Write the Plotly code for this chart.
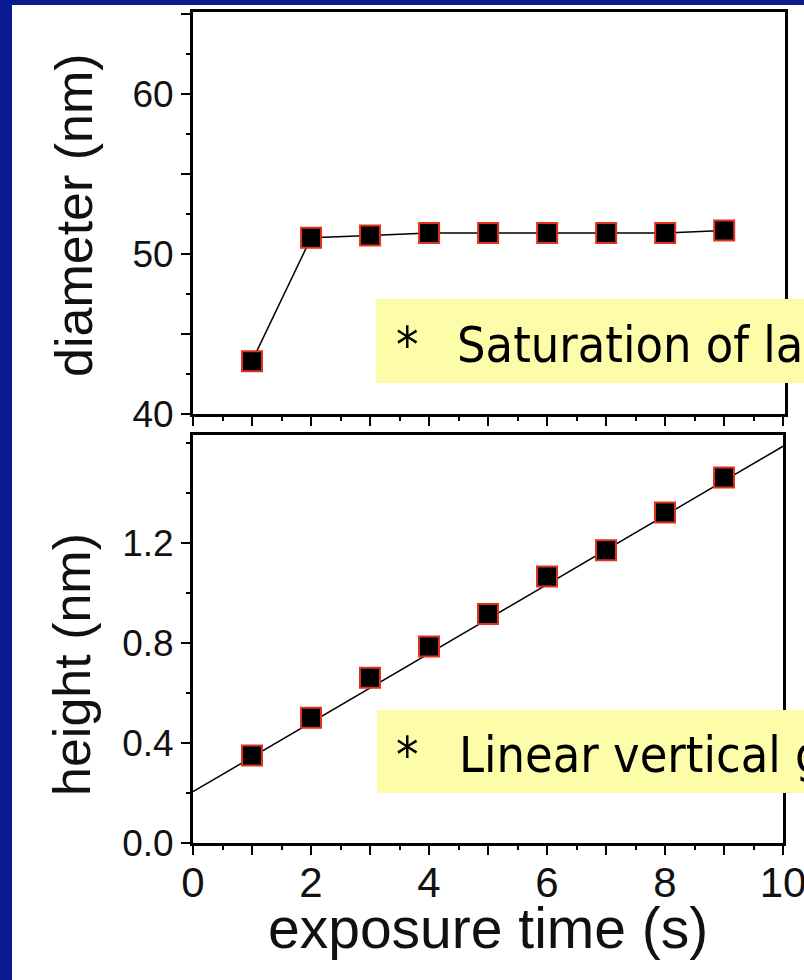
import plotly.graph_objects as go

# ---------------- data ----------------
exposure_time = [1, 2, 3, 4, 5, 6, 7, 8, 9]
diameter_nm = [43.3, 51.0, 51.15, 51.3, 51.3, 51.3, 51.3, 51.3, 51.45]
height_nm = [0.35, 0.50, 0.66, 0.785, 0.915, 1.065, 1.17, 1.32, 1.46]
fit_time = [0, 10]
fit_height = [0.205, 1.585]

x_tickvals = [0, 1, 2, 3, 4, 5, 6, 7, 8, 9, 10]
x_ticktext = ["0", "", "2", "", "4", "", "6", "", "8", "", "10"]
x_minorvals = [0.5, 1.5, 2.5, 3.5, 4.5, 5.5, 6.5, 7.5, 8.5, 9.5]
d_tickvals = [40, 45, 50, 55, 60, 65]
d_ticktext = ["40", "", "50", "", "60", ""]
d_minorvals = [42.5, 47.5, 52.5, 57.5, 62.5]
h_tickvals = [0.0, 0.4, 0.8, 1.2]
h_ticktext = ["0.0", "0.4", "0.8", "1.2"]
h_minorvals = [0.2, 0.6, 1.0, 1.4, 1.6]

note_top = "Saturation of lateral growth"
note_bottom = "Linear vertical growth"

# ---------------- layout helpers ----------------
W, H = 804, 980
def px(x):
    return x / W
def py(y):
    return 1 - y / H

NAVY = "#0a1a90"
YELLOW = "#fdfca8"
RED = "#e0321c"
AX_FONT = "Liberation Sans, Arial, sans-serif"
NOTE_FONT = "DejaVu Sans Condensed, DejaVu Sans, sans-serif"

marker = dict(symbol="square", size=20, color="black", line=dict(color=RED, width=2))

fig = go.Figure()
fig.add_trace(go.Scatter(x=exposure_time, y=diameter_nm, mode="lines+markers",
                         line=dict(color="black", width=1.5), marker=marker,
                         xaxis="x", yaxis="y", showlegend=False))
fig.add_trace(go.Scatter(x=fit_time, y=fit_height, mode="lines",
                         line=dict(color="black", width=1.5),
                         xaxis="x2", yaxis="y2", showlegend=False))
fig.add_trace(go.Scatter(x=exposure_time, y=height_nm, mode="markers", marker=marker,
                         xaxis="x2", yaxis="y2", showlegend=False))

common_axis = dict(showgrid=False, zeroline=False, showline=True, linecolor="black",
                   linewidth=3, mirror=True, ticks="outside", ticklen=9, tickwidth=2,
                   tickcolor="black", tickmode="array", automargin=False,
                   ticklabeloverflow="allow")

fig.update_layout(
    width=W, height=H, autosize=False,
    margin=dict(l=0, r=0, t=0, b=0, pad=0),
    paper_bgcolor=NAVY, plot_bgcolor="white",
    xaxis=dict(common_axis, domain=[px(193), px(785)], range=[0, 10.03], anchor="y",
               tickvals=x_tickvals, showticklabels=False,
               minor=dict(tickvals=x_minorvals, ticks="outside", ticklen=4, tickwidth=2, tickcolor="black")),
    yaxis=dict(common_axis, domain=[py(414), py(12)], range=[40, 65.1], anchor="x",
               tickvals=d_tickvals, ticktext=d_ticktext,
               tickfont=dict(family=AX_FONT, size=37, color="#111"),
               minor=dict(tickvals=d_minorvals, ticks="outside", ticklen=4, tickwidth=2, tickcolor="black")),
    xaxis2=dict(common_axis, domain=[px(193), px(783)], range=[0, 10], anchor="y2",
                tickvals=x_tickvals, ticktext=x_ticktext, ticklabelstandoff=-8,
                tickfont=dict(family=AX_FONT, size=42, color="#111"),
                minor=dict(tickvals=x_minorvals, ticks="outside", ticklen=4, tickwidth=2, tickcolor="black")),
    yaxis2=dict(common_axis, domain=[py(843), py(435)], range=[0, 1.63], anchor="x2",
                tickvals=h_tickvals, ticktext=h_ticktext,
                tickfont=dict(family=AX_FONT, size=37, color="#111"),
                minor=dict(tickvals=h_minorvals, ticks="outside", ticklen=4, tickwidth=2, tickcolor="black")),
)

# white slide panel
fig.add_shape(type="rect", xref="paper", yref="paper", x0=px(12), x1=1.0, y0=0, y1=py(5),
              fillcolor="white", line=dict(width=0), layer="below")
# yellow note boxes
fig.add_shape(type="rect", xref="paper", yref="paper", x0=px(376), x1=1.05, y0=py(383), y1=py(299),
              fillcolor=YELLOW, line=dict(width=0), layer="above")
fig.add_shape(type="rect", xref="paper", yref="paper", x0=px(377), x1=1.05, y0=py(793), y1=py(710),
              fillcolor=YELLOW, line=dict(width=0), layer="above")

def note(xpix, ypix, text, size=50):
    fig.add_annotation(xref="paper", yref="paper", x=px(xpix), y=py(ypix), text=text,
                       showarrow=False, xanchor="left", yanchor="middle",
                       font=dict(family=NOTE_FONT, size=size, color="black"))

note(394, 345, "*")
note(455, 345, note_top)
note(394, 755, "*")
note(457, 755, note_bottom)

# axis titles
fig.add_annotation(xref="paper", yref="paper", x=px(74), y=py(215), text="diameter (nm)",
                   textangle=-90, showarrow=False, xanchor="center", yanchor="middle",
                   font=dict(family=AX_FONT, size=52, color="#111"))
fig.add_annotation(xref="paper", yref="paper", x=px(72), y=py(665), text="height (nm)",
                   textangle=-90, showarrow=False, xanchor="center", yanchor="middle",
                   font=dict(family=AX_FONT, size=52, color="#111"))
fig.add_annotation(xref="paper", yref="paper", x=px(488), y=py(928), text="exposure time (s)",
                   showarrow=False, xanchor="center", yanchor="middle",
                   font=dict(family=AX_FONT, size=57, color="#111"))

fig.write_html("out.html", config={"displayModeBar": False},
               post_script="document.body.style.margin='0px';document.body.style.overflow='hidden';")
